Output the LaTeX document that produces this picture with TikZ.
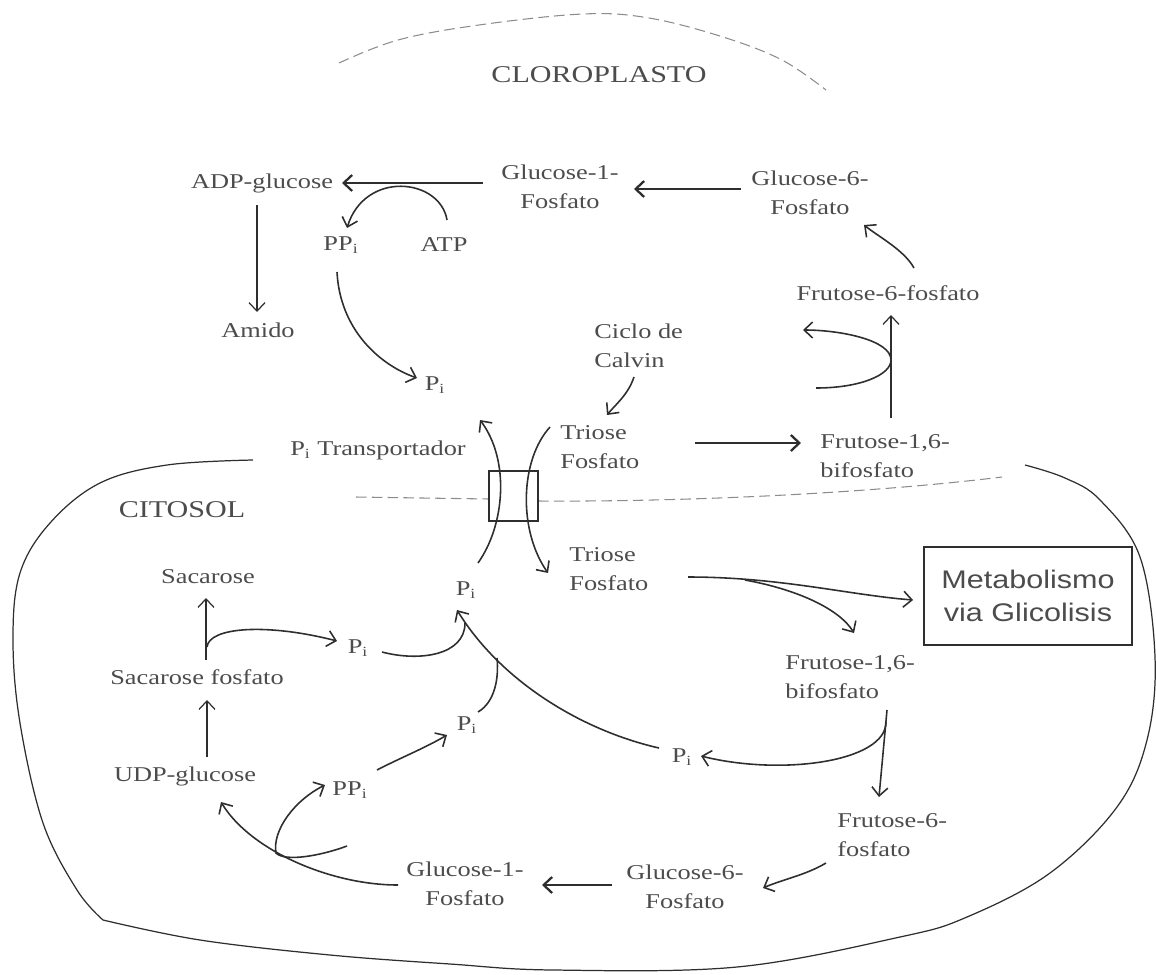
\documentclass[tikz,border=0pt]{standalone}
\usepackage{fontspec}
\setmainfont[FakeStretch=1.25]{Liberation Serif}
\newfontfamily\metasans[FakeStretch=1.2]{Liberation Sans}
\usetikzlibrary{arrows.meta,calc}
\definecolor{ink}{gray}{0.18}
\definecolor{txt}{gray}{0.3}
\begin{document}
\begin{tikzpicture}[x=0.02cm,y=-0.02cm,
  lbl/.style={inner sep=0pt, text=txt, font=\fontsize{12}{16.5}\selectfont},
  lbll/.style={lbl, align=left, anchor=west},
  lblc/.style={lbl, align=center},
  big/.style={inner sep=0pt, text=txt, font=\fontsize{13.7}{16}\selectfont},
  arr/.style={draw=ink, line width=0.9pt, -{Straight Barb[length=1.7mm,width=3.2mm]}},
  tarr/.style={arr, line width=1.3pt},
  narr/.style={arr, line width=0.7pt},
  ln/.style={draw=ink, line width=0.9pt},
  memb/.style={draw=ink, line width=0.7pt},
  dmemb/.style={draw=black!45, line width=0.6pt, dash pattern=on 6pt off 3pt},
]
\path[use as bounding box] (0,0) rectangle (1156,974);

% ---------- membranes ----------
\draw[dmemb] plot[smooth, tension=0.6] coordinates {(339,63) (398,40) (479,25) (583,14) (649,18) (723,37) (782,60) (826,90)};
\draw[dmemb] (356,497) -- (489,499);
\draw[dmemb] (538,501) .. controls (700,502) and (880,492) .. (1002,477);
\draw[memb] plot[smooth, tension=0.6] coordinates {(253,460) (167,465) (100,483) (50,523) (20,573) (13,640) (20,723) (43,823) (77,890) (103,920)};
\draw[memb] plot[smooth, tension=0.6] coordinates {(103,920) (200,940) (330,955) (450,964) (553,970) (737,967) (900,937) (967,917) (1050,873) (1117,807) (1147,740) (1155,657) (1140,557) (1100,500) (1065,478) (1025,465)};

% ---------- chloroplast ----------
\node[big] (clo) at (599,75) {CLOROPLASTO};
\node[lbl] (adp) at (262,183) {ADP-glucose};
\node[lblc] (g1p) at (560,187) {Glucose-1-\\Fosfato};
\node[lblc] (g6p) at (810,193) {Glucose-6-\\Fosfato};
\node[lbl] (ppi) at (341,245) {PP\textsubscript{i}};
\node[lbl] (atp) at (444,245) {ATP};
\node[lbl] (amido) at (258,330) {Amido};
\node[lbl] (pi1) at (435,385) {P\textsubscript{i}};
\node[lbll] (calvin) at (594,346) {Ciclo de\\Calvin};
\node[lbll] (triose1) at (560,447) {Triose\\Fosfato};
\node[lbll] (f16a) at (820,456) {Frutose-1,6-\\bifosfato};
\node[lbl] (f6pa) at (888,293) {Frutose-6-fosfato};
\node[lbl] (transp) at (378,450) {P\textsubscript{i} Transportador};
\node[draw=ink, line width=0.8pt, minimum width=0.98cm, minimum height=1cm, inner sep=0pt] (box) at (513.5,496) {};

% ---------- cytosol ----------
\node[big] (citosol) at (182,510) {CITOSOL};
\node[lbl] (sac) at (208,577) {Sacarose};
\node[lbl] (sacf) at (197,677) {Sacarose fosfato};
\node[lbl] (udp) at (185,776) {UDP-glucose};
\node[lbl] (pit) at (466,590) {P\textsubscript{i}};
\node[lbl] (pim) at (358,648) {P\textsubscript{i}};
\node[lbl] (pil) at (467,725) {P\textsubscript{i}};
\node[lbl] (ppi2) at (350,790) {PP\textsubscript{i}};
\node[lbl] (pir) at (682,757) {P\textsubscript{i}};
\node[lbll] (triose2) at (569,569) {Triose\\Fosfato};
\node[draw=ink, line width=1.1pt, minimum width=4.16cm, minimum height=1.96cm, inner sep=0pt, align=center, text=txt, font=\metasans\fontsize{14.5}{19}\selectfont] (meta) at (1028,596) {Metabolismo\\via Glicolisis};
\node[lbll] (f16b) at (785,677) {Frutose-1,6-\\bifosfato};
\node[lbll] (f6pb) at (837,835) {Frutose-6-\\fosfato};
\node[lblc] (g6pb) at (685,887) {Glucose-6-\\Fosfato};
\node[lblc] (g1pb) at (465,884) {Glucose-1-\\Fosfato};

% ---------- chloroplast connectors ----------
\draw[tarr] ($(g1p)+(-77,-4)$) -- ($(adp)+(80,0)$);
\draw[tarr] ($(g6p)+(-69,-4)$) -- ($(g1p)+(74,2)$);
\draw[arr] ($(atp)+(3,-25)$) .. controls +(-7,-42) and +(18,-58) .. ($(ppi)+(6,-17)$);
\draw[narr] ($(adp)+(-5,22)$) -- ($(amido)+(-1,-18)$);
\draw[arr] ($(ppi)+(-4,27)$) .. controls +(3,58) and +(-37,-13) .. ($(pi1)+(-18,-7)$);
\draw[arr] ($(calvin.west)+(40,31)$) .. controls +(-6,18) and +(8,-10) .. ($(triose1.west)+(47,-32)$);
\draw[tarr] ($(triose1.west)+(135,-4)$) -- ($(f16a.west)+(-19,-13)$);
\draw[narr] ($(f16a.west)+(71,-38)$) -- ($(f6pa)+(3,22)$);
\draw[arr] ($(f16a.west)+(-4,-68)$) .. controls +(44,0) and +(0,15) .. ($(f6pa)+(3,67)$)
           .. controls +(0,-20) and +(37,0) .. ($(f6pa)+(-85,37)$);
\draw[arr] ($(f6pa)+(26,-25)$) .. controls +(-10,-18) and +(15,12) .. ($(g6p)+(54,32)$);

% ---------- transporter ----------
\draw[arr] ($(pit)+(12,-27)$) .. controls +(27,-38) and +(30,40) .. ($(box)+(-33.5,-76)$);
\draw[arr] ($(triose1.west)+(-10,-20)$) .. controls +(-30,33) and +(-30,-43) .. ($(triose2.west)+(-21,4)$);

% ---------- cytosol connectors ----------
\draw[arr] ($(triose2.west)+(119,8)$) .. controls +(92,0) and +(-64,-5) .. ($(meta.west)+(-10,4)$);
\draw[arr] ($(triose2.west)+(176,11)$) .. controls +(55,10) and +(-14,-23) .. ($(f16b.west)+(69,-44)$);
\draw[arr] ($(f16b.west)+(102,33)$) -- ($(f6pb.west)+(42,-38)$);
\draw[arr] ($(f16b.west)+(101,45)$) .. controls +(0,40) and +(80,20) .. ($(pir)+(19,-1)$);
\draw[arr] ($(pir)+(-23,-9)$) .. controls +(-79,-18) and +(43,70) .. ($(pit)+(-9,20)$);
\draw[ln] ($(pim)+(24,4)$) .. controls +(38,10) and +(0,32) .. ($(pit)+(-1,33)$);
\draw[ln] ($(pil)+(11,-13)$) .. controls +(17,-10) and +(2,20) .. ($(pit)+(31,68)$);
\draw[arr] ($(sacf)+(10,-30)$) .. controls +(2,-20) and +(-70,-18) .. ($(pim)+(-21,-7)$);
\draw[narr] ($(sacf)+(9,-17)$) -- ($(sac)+(-2,21)$);
\draw[narr] ($(udp)+(22,-19)$) -- ($(sacf)+(10,23)$);
\draw[arr] ($(ppi2)+(27,-20)$) .. controls +(23,-12) and +(-22,13) .. ($(pil)+(-20,10)$);
\draw[arr] ($(g1pb)+(-67,1)$) .. controls +(-68,0) and +(29,48) .. ($(udp)+(36,26)$);
\draw[arr] ($(g1pb)+(-118,-38)$) .. controls +(-27,10) and +(9,9) .. ($(ppi2)+(-74,63)$)
           .. controls +(-4,-23) and +(-30,15) .. ($(ppi2)+(-25,-5)$);
\draw[arr] ($(f6pb.west)+(-11,28)$) .. controls +(-20,12) and +(18,-8) .. ($(g6pb)+(78,1)$);
\draw[tarr] ($(g6pb)+(-73,-2)$) -- ($(g1pb)+(77,1)$);
\end{tikzpicture}
\end{document}
